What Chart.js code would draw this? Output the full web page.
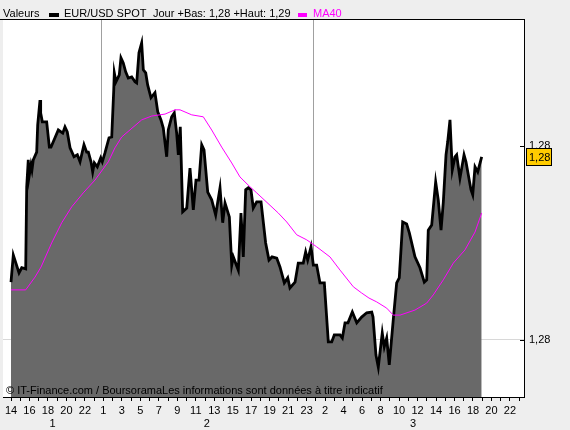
<!DOCTYPE html>
<html>
<head>
<meta charset="utf-8">
<script src="https://cdn.jsdelivr.net/npm/chart.js@4"></script>
<style>
  html, body { margin: 0; padding: 0; background: #eeeeee; }
  canvas { display: block; }
</style>
</head>
<body>
<canvas id="fxChart" width="570" height="430"></canvas>
<script>
// Axis labels
const hourLabels = ["14", "16", "18", "20", "22",
  "1", "3", "5", "7", "9", "11", "13", "15", "17", "19", "21", "23",
  "2", "4", "6", "8", "10", "12", "14", "16", "18", "20", "22"];
const dayLabels = ["1", "2", "3"];
const dayLabelSlots = [4.5, 21.2, 43.5];
const dayBreaks = [9.74, 32.68];
const priceTicks = [1.280, 1.285];

// EUR/USD spot (x = hour slot on the trading axis)
const spotSlots = [0, 0.25, 0.87, 1.16, 1.59, 1.70, 1.87, 1.95, 2.16, 2.27, 2.41, 2.78, 2.89, 3.14, 3.21, 3.39, 3.86,
  4.15, 4.33, 4.76, 5.12, 5.60, 5.84, 6.09, 6.39, 6.82, 7.18, 7.47, 7.90, 8.19, 8.37, 8.66, 8.84, 9.02, 9.34,
  9.71, 9.88, 10.17, 10.61, 10.90, 11.12, 11.18, 11.36, 11.72, 11.90, 12.15, 12.41, 12.69, 13.06, 13.42, 13.60,
  13.85, 14.14, 14.32, 14.58, 14.79, 15.15, 15.58, 15.88, 16.23, 16.48, 16.85, 17.02, 17.39, 17.67, 17.93, 18.11,
  18.32, 18.58, 19.02, 19.37, 19.73, 20.02, 20.35, 20.64, 20.89, 21.29, 21.72, 22.15, 22.62, 22.91, 23.16, 23.63,
  23.89, 24.06, 24.60, 24.89, 25.14, 25.40, 25.68, 25.97, 26.22, 26.59, 27.06, 27.56, 27.92, 28.25, 28.76, 29.11,
  29.58, 29.95, 30.19, 30.74, 31.09, 31.63, 31.89, 32.11, 32.47, 32.72, 33.08, 33.44, 33.91, 34.34, 34.71, 34.99,
  35.61, 35.86, 36.15, 36.47, 36.94, 37.42, 37.95, 38.50, 39.04, 39.18, 39.50, 39.75, 40.18, 40.40, 40.66, 40.94,
  41.37, 41.74, 42.02, 42.39, 42.82, 43.11, 43.72, 44.26, 44.73, 44.99, 45.16, 45.53, 45.96, 46.24, 46.54, 46.79,
  47.08, 47.26, 47.51, 47.76, 48.05, 48.23, 48.59, 49.03, 49.24, 49.78, 49.97, 50.22, 50.51, 50.94];
const spotValues = [1.28149, 1.28219, 1.28173, 1.28186, 1.28183, 1.28394, 1.28464, 1.28420, 1.28451, 1.28438, 1.28464,
  1.28484, 1.28554, 1.28618, 1.28585, 1.28562, 1.28562, 1.28497, 1.28497, 1.28521, 1.28541, 1.28533, 1.28549,
  1.28536, 1.28495, 1.28472, 1.28477, 1.28459, 1.28503, 1.28484, 1.28484, 1.28459, 1.28433, 1.28456, 1.28446,
  1.28469, 1.28459, 1.28482, 1.28521, 1.28523, 1.28644, 1.28688, 1.28665, 1.28683, 1.28727, 1.28714, 1.28691,
  1.28675, 1.28678, 1.28665, 1.28662, 1.28740, 1.28765, 1.28696, 1.28688, 1.28657, 1.28624, 1.28637, 1.28588,
  1.28567, 1.28546, 1.28472, 1.28541, 1.28575, 1.28585, 1.28533, 1.28477, 1.28549, 1.28330, 1.28340, 1.28443,
  1.28335, 1.28412, 1.28412, 1.28503, 1.28490, 1.28381, 1.28361, 1.28322, 1.28392, 1.28302, 1.28353, 1.28317,
  1.28193, 1.28214, 1.28180, 1.28327, 1.28214, 1.28387, 1.28392, 1.28387, 1.28340, 1.28356, 1.28356, 1.28250,
  1.28206, 1.28214, 1.28211, 1.28188, 1.28147, 1.28160, 1.28134, 1.28149, 1.28198, 1.28198, 1.28227, 1.28206,
  1.28240, 1.28193, 1.28193, 1.28147, 1.28147, 1.27995, 1.27995, 1.28013, 1.28013, 1.28005, 1.28044, 1.28044,
  1.28072, 1.28044, 1.28059, 1.28070, 1.28072, 1.28059, 1.27961, 1.27930, 1.28018, 1.27982, 1.28005, 1.27936,
  1.28052, 1.28147, 1.28160, 1.28304, 1.28299, 1.28276, 1.28214, 1.28186, 1.28149, 1.28155, 1.28283, 1.28296,
  1.28407, 1.28361, 1.28283, 1.28356, 1.28477, 1.28510, 1.28567, 1.28438, 1.28472, 1.28477, 1.28417, 1.28477,
  1.28459, 1.28387, 1.28374, 1.28446, 1.28433, 1.28472];

// 40-period moving average
const maSlots = [0, 1.59, 2.60, 3.25, 4.40, 5.49, 6.57, 7.82, 9.09, 10.53, 11.25, 11.98, 12.77, 14.14, 15.23,
  16.67, 17.75, 18.29, 19.56, 20.81, 21.72, 22.80, 23.89, 24.78, 25.76, 26.59, 28.93, 29.84, 30.92, 32.00, 33.08,
  34.52, 35.61, 37.05, 37.95, 38.74, 39.58, 40.66, 41.37, 42.10, 43.72, 44.99, 45.70, 46.79, 47.87, 49.13, 50.22, 50.94];
const maValues = [1.28129, 1.28129, 1.28162, 1.28188, 1.28250, 1.28302, 1.28343, 1.28379, 1.28412, 1.28459,
  1.28495, 1.28523, 1.28539, 1.28567, 1.28577, 1.28582, 1.28593, 1.28593, 1.28580, 1.28575, 1.28541, 1.28497,
  1.28456, 1.28420, 1.28397, 1.28379, 1.28327, 1.28304, 1.28271, 1.28258, 1.28240, 1.28214, 1.28180, 1.28137,
  1.28121, 1.28108, 1.28098, 1.28082, 1.28064, 1.28064, 1.28077, 1.28095, 1.28116, 1.28155, 1.28198, 1.28232,
  1.28278, 1.28327];

const FONT = "Arial, 'Liberation Sans', sans-serif";
const X_MIN = -0.866, X_MAX = 55.52;

// price formatting: 2 decimals, French comma
function fmtPrice(v) {
  return v.toFixed(2).replace(".", ",");
}

const spotLow = Math.min(...spotValues);
const spotHigh = Math.max(...spotValues);

const decor = {
  id: "decor",
  beforeDraw(chart) {
    const { ctx, chartArea: a } = chart;
    ctx.save();
    ctx.fillStyle = "#eeeeee";
    ctx.fillRect(0, 0, chart.width, chart.height);
    ctx.fillStyle = "#ffffff";
    ctx.fillRect(a.left, a.top, a.right - a.left, a.bottom - a.top);
    ctx.restore();
  },
  beforeDatasetsDraw(chart) {
    const { ctx, chartArea: a, scales } = chart;
    ctx.save();
    ctx.strokeStyle = "#a0a0a0";
    ctx.lineWidth = 1;
    dayBreaks.forEach((s) => {
      const x = Math.round(scales.x.getPixelForValue(s)) + 0.5;
      ctx.beginPath();
      ctx.moveTo(x, a.top);
      ctx.lineTo(x, a.bottom);
      ctx.stroke();
    });
    ctx.restore();
  },
  afterDatasetsDraw(chart) {
    const { ctx, chartArea: a, scales } = chart;
    ctx.save();
    // watermark
    ctx.fillStyle = "#000";
    ctx.font = "11px " + FONT;
    ctx.textBaseline = "alphabetic";
    ctx.fillText("\u00a9 IT-Finance.com / BoursoramaLes informations sont données à titre indicatif", 6, a.bottom - 3);
    // top border
    ctx.strokeStyle = "#000";
    ctx.lineWidth = 1;
    ctx.beginPath();
    ctx.moveTo(0, a.top + 0.5);
    ctx.lineTo(a.right, a.top + 0.5);
    ctx.stroke();
    // inner tick marks on price axis
    priceTicks.forEach((v) => {
      const y = Math.round(scales.y.getPixelForValue(v)) + 0.5;
      ctx.beginPath();
      ctx.moveTo(a.right - 4, y);
      ctx.lineTo(a.right, y);
      ctx.stroke();
    });
    // last value box
    const last = spotValues[spotValues.length - 1];
    const yl = Math.round(scales.y.getPixelForValue(last));
    ctx.fillStyle = "#ffcc00";
    ctx.fillRect(a.right + 2.5, yl - 8.5, 25, 17);
    ctx.strokeRect(a.right + 2.5, yl - 8.5, 25, 17);
    ctx.fillStyle = "#000";
    ctx.textBaseline = "middle";
    ctx.fillText(fmtPrice(last), a.right + 5, yl + 1);
    ctx.restore();
  },
  afterDraw(chart) {
    const { ctx } = chart;
    const ds = chart.data.datasets;
    ctx.save();
    ctx.font = "11px " + FONT;
    ctx.textBaseline = "middle";
    ctx.fillStyle = "#000";
    ctx.fillText("Valeurs", 3, 14);
    ctx.fillStyle = ds[1].borderColor;
    ctx.fillRect(49, 13, 10, 4);
    ctx.fillStyle = "#000";
    ctx.fillText(ds[1].label, 64, 14);
    ctx.fillText("Jour +Bas: " + fmtPrice(spotLow) + " +Haut: " + fmtPrice(spotHigh), 153, 14);
    ctx.fillStyle = ds[0].borderColor;
    ctx.fillRect(298, 13, 9, 4);
    ctx.fillText(ds[0].label, 313, 14);
    ctx.restore();
  },
};

const ctx = document.getElementById("fxChart").getContext("2d");
const fxChart = new Chart(ctx, {
  type: "line",
  data: {
    datasets: [
      {
        label: "MA40",
        data: maSlots.map((s, i) => ({ x: s, y: maValues[i] })),
        borderColor: "#ff00ff",
        borderWidth: 1,
        pointRadius: 0,
        fill: false,
        order: 0,
      },
      {
        label: "EUR/USD SPOT",
        data: spotSlots.map((s, i) => ({ x: s, y: spotValues[i] })),
        borderColor: "#000000",
        backgroundColor: "#696969",
        borderWidth: 2.8,
        pointRadius: 0,
        fill: "start",
        order: 1,
      },
    ],
  },
  options: {
    responsive: false,
    animation: false,
    devicePixelRatio: 1,
    layout: { padding: { left: 3, top: 19, right: 0, bottom: 0 } },
    plugins: { legend: { display: false }, tooltip: { enabled: false } },
    scales: {
      x: {
        type: "linear",
        position: "bottom",
        min: X_MIN,
        max: X_MAX,
        afterBuildTicks: (s) => {
          s.ticks = [];
          for (let v = 0; v <= 55; v++) s.ticks.push({ value: v });
        },
        afterFit: (s) => { s.height = 19; },
        ticks: {
          autoSkip: false,
          maxRotation: 0,
          padding: 3,
          color: "#000",
          font: { family: FONT, size: 11 },
          callback: (v) => (v % 2 === 0 ? hourLabels[v / 2] : ""),
        },
        grid: { drawOnChartArea: false, color: "#000", tickLength: 4 },
        border: { color: "#000" },
      },
      days: {
        type: "linear",
        position: "bottom",
        min: X_MIN,
        max: X_MAX,
        afterBuildTicks: (s) => {
          s.ticks = dayLabelSlots.map((v) => ({ value: v }));
        },
        afterFit: (s) => { s.height = 14; },
        ticks: {
          autoSkip: false,
          maxRotation: 0,
          padding: 1,
          color: "#000",
          font: { family: FONT, size: 11 },
          callback: (v, i) => dayLabels[i],
        },
        grid: { display: false, drawTicks: false },
        border: { display: false },
      },
      y: {
        position: "right",
        min: 1.27853,
        max: 1.28827,
        afterBuildTicks: (s) => {
          s.ticks = priceTicks.map((v) => ({ value: v }));
        },
        afterFit: (s) => { s.width = 46; },
        ticks: {
          padding: 5,
          color: "#000",
          font: { family: FONT, size: 11 },
          callback: (v) => fmtPrice(v),
        },
        grid: {
          drawTicks: false,
          color: (c) => (c.tick && Math.abs(c.tick.value - 1.28) < 1e-6 ? "#d8d8d8" : "rgba(0,0,0,0)"),
        },
        border: { color: "#000" },
      },
    },
  },
  plugins: [decor],
});
</script>
</body>
</html>
